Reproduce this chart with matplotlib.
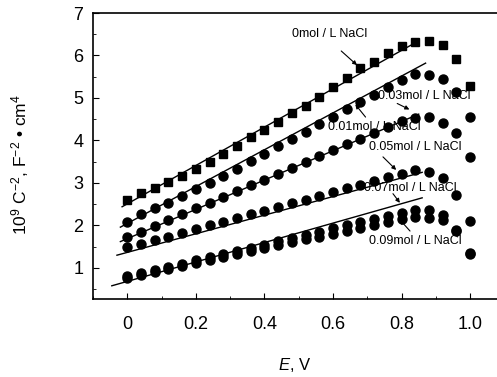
import numpy as np
import matplotlib.pyplot as plt
from matplotlib.ticker import MultipleLocator

plt.rcParams['font.family'] = ['Liberation Sans', 'DejaVu Sans']
plt.rcParams['mathtext.fontset'] = 'custom'
plt.rcParams['mathtext.rm'] = 'Liberation Sans'
plt.rcParams['mathtext.it'] = 'Liberation Sans:italic'

# potential, V
E = np.round(np.arange(0, 1.001, 0.04), 2)

# 10^9 C^-2 for each NaCl concentration
c_0 = [2.60, 2.76, 2.88, 3.02, 3.16, 3.33, 3.50, 3.68, 3.88, 4.08, 4.25, 4.44, 4.65,
       4.81, 5.02, 5.26, 5.47, 5.70, 5.85, 6.06, 6.22, 6.32, 6.34, 6.25, 5.92, 5.28]
c_001 = [2.08, 2.27, 2.41, 2.53, 2.69, 2.86, 3.00, 3.17, 3.34, 3.52, 3.69, 3.86, 4.04,
         4.21, 4.38, 4.56, 4.73, 4.90, 5.07, 5.25, 5.42, 5.56, 5.54, 5.45, 5.14, 4.55]
c_003 = [1.73, 1.85, 1.99, 2.12, 2.26, 2.40, 2.53, 2.67, 2.81, 2.95, 3.08, 3.22, 3.36,
         3.50, 3.63, 3.77, 3.91, 4.04, 4.18, 4.32, 4.45, 4.53, 4.55, 4.41, 4.18, 3.61]
c_005 = [1.49, 1.56, 1.65, 1.74, 1.82, 1.91, 2.00, 2.09, 2.17, 2.26, 2.35, 2.43, 2.52,
         2.61, 2.69, 2.78, 2.87, 2.96, 3.04, 3.13, 3.22, 3.31, 3.26, 3.12, 2.72, 2.10]
c_007 = [0.80, 0.88, 0.95, 1.03, 1.10, 1.18, 1.25, 1.33, 1.40, 1.48, 1.55, 1.63, 1.70,
         1.78, 1.85, 1.93, 2.00, 2.08, 2.15, 2.22, 2.30, 2.36, 2.36, 2.25, 1.89, 1.35]
c_009 = [0.76, 0.83, 0.90, 0.97, 1.04, 1.11, 1.18, 1.25, 1.32, 1.39, 1.46, 1.53, 1.60,
         1.67, 1.74, 1.81, 1.88, 1.95, 2.02, 2.09, 2.15, 2.20, 2.18, 2.13, 1.87, 1.33]

# linear fits: (E start, E end, value start, value end)
fits = [(-0.015, 0.84, 2.44, 6.30),
        (-0.02, 0.87, 1.96, 5.82),
        (-0.02, 0.85, 1.62, 4.62),
        (-0.03, 0.86, 1.30, 3.25),
        (-0.045, 0.86, 0.58, 2.65)]

# labels: text, text pos, arrow tip
labels = ['0mol / L NaCl', '0.03mol / L NaCl', '0.01mol / L NaCl',
          '0.05mol / L NaCl', '0.07mol / L NaCl', '0.09mol / L NaCl']
text_xy = [(0.48, 6.5), (0.73, 5.05), (0.585, 4.32), (0.705, 3.85), (0.69, 2.88), (0.705, 1.64)]
arrow_from = [(0.618, 6.15), (0.78, 4.90), (0.70, 4.50), (0.74, 3.66), (0.77, 2.80), (0.83, 1.82)]
arrow_to = [(0.676, 5.73), (0.83, 4.70), (0.66, 4.90), (0.79, 3.26), (0.80, 2.48), (0.79, 2.18)]

fig = plt.figure(figsize=(4.97, 3.77), dpi=100)
ax = fig.add_axes([0.187, 0.207, 0.828, 0.7585])

for x0, x1, y0, y1 in fits:
    ax.plot([x0, x1], [y0, y1], color='black', lw=1.0)

ax.plot(E, c_0, 's', color='black', ms=6)
for s in [c_001, c_003, c_005, c_007, c_009]:
    ax.plot(E, s, 'o', color='black', ms=6.5)

for lab, t, a0, a1 in zip(labels, text_xy, arrow_from, arrow_to):
    ax.text(t[0], t[1], lab, fontsize=9, va='center', ha='left')
    ax.annotate('', xy=a1, xytext=a0,
                arrowprops=dict(arrowstyle='-|>', color='black', lw=0.8, mutation_scale=6))

ax.set_xlim(-0.1, 1.1)
ax.set_ylim(0.27, 7)
ax.xaxis.set_major_locator(MultipleLocator(0.2))
ax.xaxis.set_minor_locator(MultipleLocator(0.1))
ax.yaxis.set_major_locator(MultipleLocator(1))
ax.yaxis.set_minor_locator(MultipleLocator(0.5))
ax.set_xticks([0, 0.2, 0.4, 0.6, 0.8, 1.0])
ax.set_xticklabels(['0', '0.2', '0.4', '0.6', '0.8', '1.0'])
ax.tick_params(which='both', direction='in', labelsize=13)
ax.tick_params(which='major', length=4)
ax.tick_params(which='minor', length=2)
ax.tick_params(axis='x', pad=12)
ax.tick_params(axis='y', pad=7)
for sp in ax.spines.values():
    sp.set_linewidth(1.2)

ax.set_xlabel('$E$, V', fontsize=12)
ax.set_ylabel('10$^9$ C$^{-2}$, F$^{-2}$ • cm$^4$', fontsize=12.5)
ax.xaxis.set_label_coords(0.49, -0.2)
ax.yaxis.set_label_coords(-0.15, 0.47)

fig.savefig('out.png', dpi=100)
